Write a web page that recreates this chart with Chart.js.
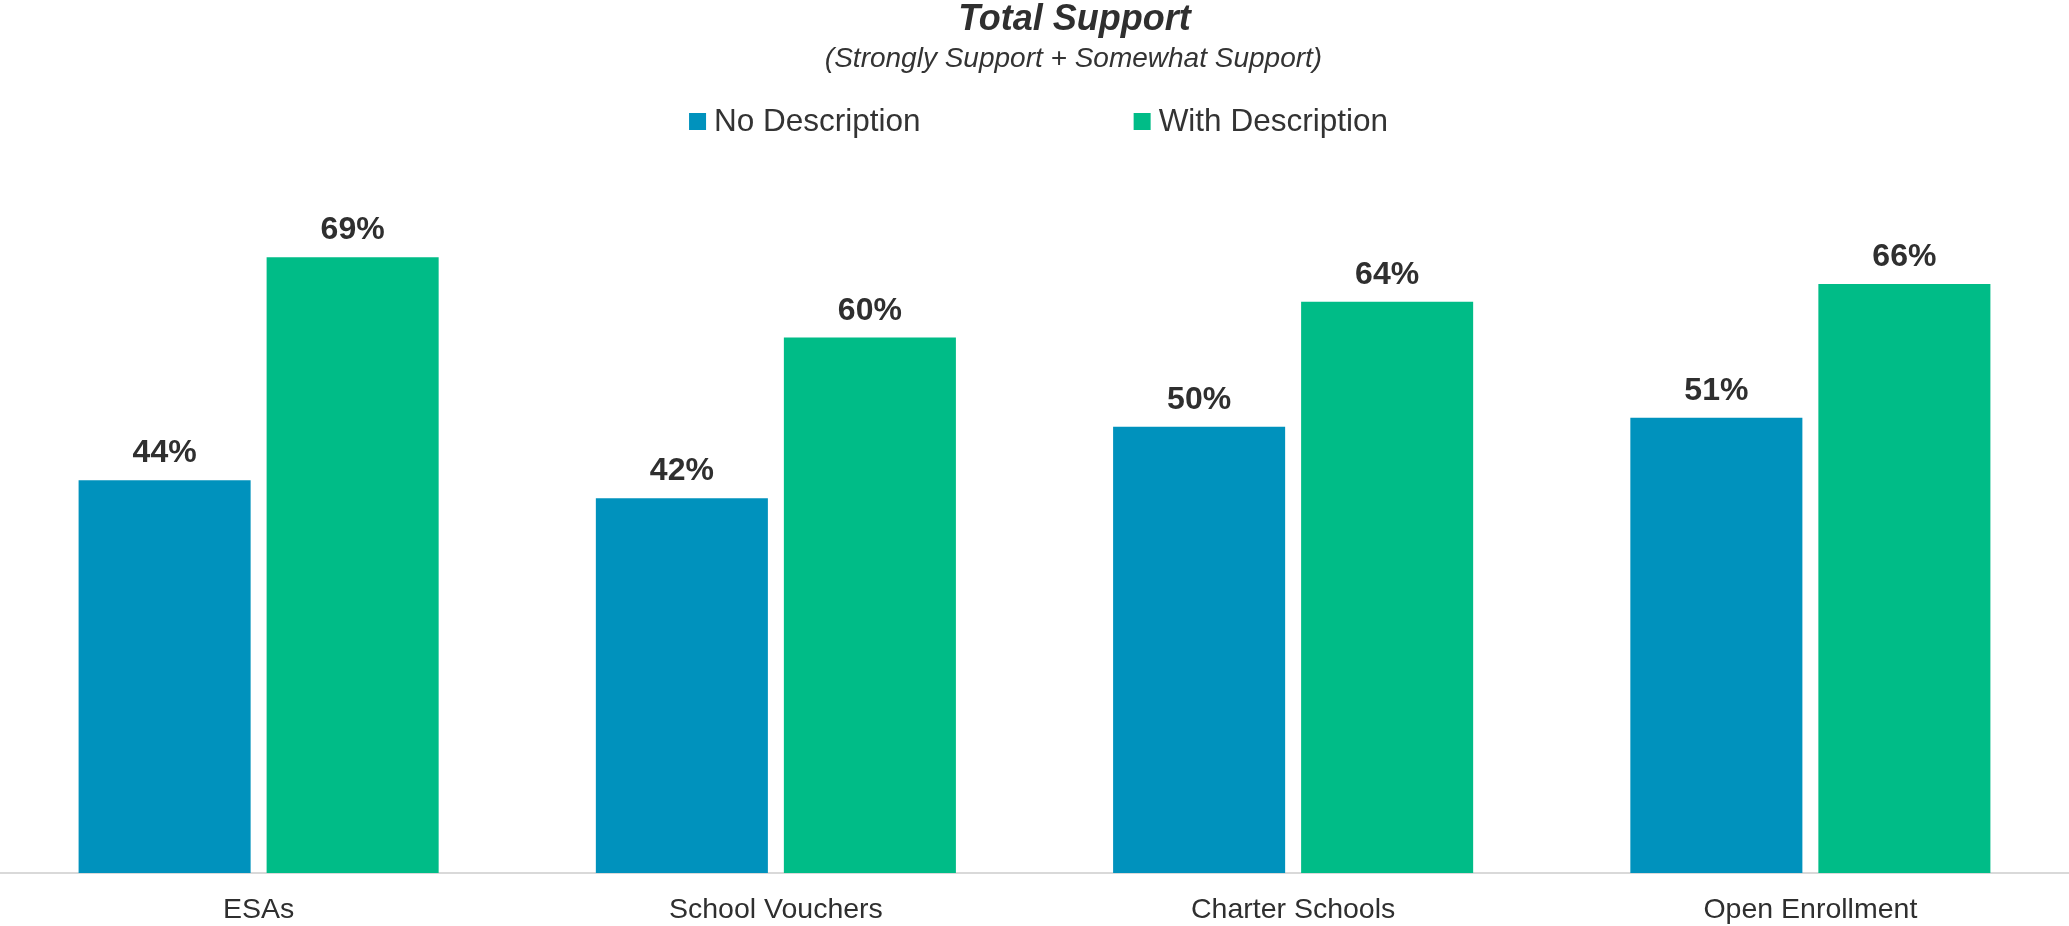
<!DOCTYPE html>
<html>
<head>
<meta charset="utf-8">
<title>Total Support</title>
<script src="https://cdn.jsdelivr.net/npm/chart.js@4.4.1/dist/chart.umd.min.js"></script>
<style>
  html, body { margin: 0; padding: 0; background: #ffffff; }
  #wrap { width: 2069px; height: 926px; position: relative; }
</style>
</head>
<body>
<div id="wrap"><canvas id="chart"></canvas></div>
<script>
// Policy categories and survey results (percent who support)
const categories = ['ESAs', 'School Vouchers', 'Charter Schools', 'Open Enrollment'];
const noDescription = [44, 42, 50, 51];
const withDescription = [69, 60, 64, 66];
const seriesNames = ['No Description', 'With Description'];

const titleText = 'Total Support';
const subtitleText = '(Strongly Support + Somewhat Support)';

const FONT = "'Liberation Sans', Arial, Helvetica, sans-serif";
const BLUE = '#0092BD';
const GREEN = '#00BC87';
const TEXT = '#2F2F2F';

// Title, subtitle and legend drawn above the plot area
const headerPlugin = {
  id: 'header',
  afterDraw(chart) {
    const ctx = chart.ctx;
    ctx.save();
    ctx.fillStyle = TEXT;
    ctx.textAlign = 'center';
    ctx.textBaseline = 'alphabetic';
    const cx = chart.width / 2 + 40;
    ctx.font = `italic bold 36px ${FONT}`;
    ctx.fillText(titleText, cx, 30);
    ctx.font = `italic 28px ${FONT}`;
    ctx.fillStyle = '#333333';
    ctx.fillText(subtitleText, cx - 1, 67);

    // legend
    ctx.font = `31.5px ${FONT}`;
    ctx.textAlign = 'left';
    const box = 17, textGap = 25, itemGap = 213;
    const ds = chart.data.datasets;
    const widths = ds.map(d => textGap + ctx.measureText(d.label).width);
    const total = widths.reduce((a, b) => a + b, 0) + itemGap * (ds.length - 1);
    let x = chart.width / 2 + 4 - total / 2;
    ds.forEach((d, i) => {
      ctx.fillStyle = d.backgroundColor;
      ctx.fillRect(x, 113, box, box);
      ctx.fillStyle = '#333333';
      ctx.fillText(d.label, x + textGap, 131);
      x += widths[i] + itemGap;
    });
    ctx.restore();
  }
};

// Percentage labels above each bar, positioned from the bar elements
const valueLabels = {
  id: 'valueLabels',
  afterDatasetsDraw(chart) {
    const ctx = chart.ctx;
    ctx.save();
    ctx.font = `bold 32px ${FONT}`;
    ctx.fillStyle = TEXT;
    ctx.textAlign = 'center';
    ctx.textBaseline = 'alphabetic';
    chart.data.datasets.forEach((ds, di) => {
      chart.getDatasetMeta(di).data.forEach((bar, i) => {
        ctx.fillText(ds.data[i] + '%', bar.x, bar.y - 18);
      });
    });
    ctx.restore();
  }
};

new Chart(document.getElementById('chart'), {
  type: 'bar',
  data: {
    labels: categories,
    datasets: [
      { label: seriesNames[0], data: noDescription, backgroundColor: BLUE },
      { label: seriesNames[1], data: withDescription, backgroundColor: GREEN }
    ]
  },
  options: {
    responsive: true,
    maintainAspectRatio: false,
    animation: false,
    devicePixelRatio: 1,
    layout: { padding: { top: 159, left: 0, right: 0, bottom: 0 } },
    datasets: {
      bar: { categoryPercentage: 0.727, barPercentage: 0.915 }
    },
    plugins: {
      legend: { display: false },
      title: { display: false },
      tooltip: { enabled: false }
    },
    scales: {
      x: {
        grid: { display: false, drawTicks: false },
        border: { display: true, color: '#D9D9D9', width: 2 },
        ticks: {
          color: TEXT,
          font: { family: FONT, size: 28.5 },
          padding: 20
        },
        afterFit(scale) { scale.height = 53; }
      },
      y: {
        display: false,
        min: 0,
        max: 80
      }
    }
  },
  plugins: [headerPlugin, valueLabels]
});
</script>
</body>
</html>
